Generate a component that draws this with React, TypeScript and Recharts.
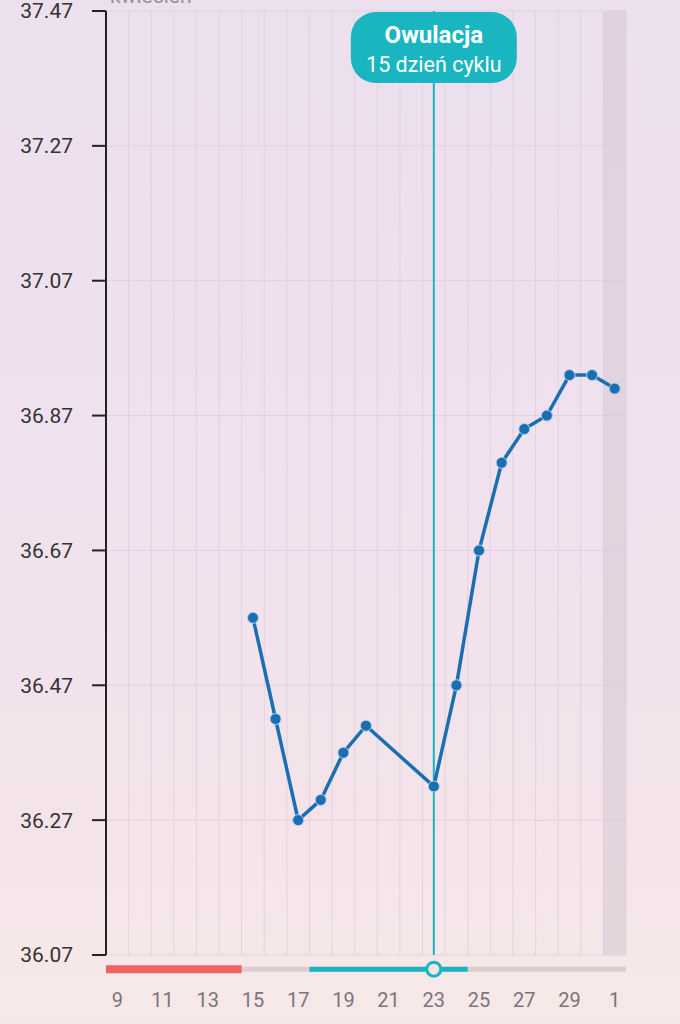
import React from 'react';
import {
  LineChart,
  Line,
  XAxis,
  YAxis,
  CartesianGrid,
  ReferenceLine,
  ReferenceArea,
  ReferenceDot,
} from 'recharts';

const days = ['9', '10', '11', '12', '13', '14', '15', '16', '17', '18', '19', '20', '21', '22', '23', '24', '25', '26', '27', '28', '29', '30', '1'];
const temps: (number | null)[] = [null, null, null, null, null, null, 36.57, 36.42, 36.27, 36.3, 36.37, 36.41, null, null, 36.32, 36.47, 36.67, 36.8, 36.85, 36.87, 36.93, 36.93, 36.91];
const yTicks = [36.07, 36.27, 36.47, 36.67, 36.87, 37.07, 37.27, 37.47];
const xTickDays = ['9', '11', '13', '15', '17', '19', '21', '23', '25', '27', '29', '1'];
const periodRange = ['9', '14'];
const fertileRange = ['18', '24'];
const ovulationDay = '23';
const todayDay = '1';
const ovulationTitle = 'Owulacja';
const ovulationSub = '15 dzień cyklu';
const monthLabel = 'kwiecień';
const TRACK_Y = 36.049;

const data = days.map((d, i) => ({ idx: i, day: d, temp: temps[i] }));
const idxOf = (d: string) => days.lastIndexOf(d);
const xTicks = xTickDays.map((d) => (d === '1' ? days.length - 1 : days.indexOf(d)));

const TEAL = '#19b6c2';
const BLUE = '#1a6fb3';
const BG_BOTTOM = '#f6e6e8';

const OvLabel = (props: any) => {
  const vb = props.viewBox || {};
  const cx = vb.x;
  const top = vb.y + 1;
  return (
    <g>
      <rect x={cx - 83} y={top} width={166} height={71} rx={25} ry={25} fill={TEAL} />
      <text x={cx} y={top + 31} textAnchor="middle" fill="#ffffff" fontSize={24} fontWeight={700} fontFamily="Roboto">
        {ovulationTitle}
      </text>
      <text x={cx} y={top + 60} textAnchor="middle" fill="#ffffff" fontSize={21.5} fontFamily="Roboto">
        {ovulationSub}
      </text>
    </g>
  );
};

export default function App() {
  const n = days.length;
  return (
    <div
      style={{
        position: 'absolute',
        top: 0,
        left: 0,
        width: 680,
        height: 1024,
        overflow: 'hidden',
        background: 'linear-gradient(180deg, #ecdfee 0%, #f0e1ef 40%, #f3e3ea 75%, #f7e8e8 100%)',
        fontFamily: 'Roboto',
      }}
    >
      <svg width={680} height={20} style={{ position: 'absolute', top: 0, left: 0 }}>
        <text x={110} y={3} fontSize={21} fill="#9a9098" fontFamily="Roboto">
          {monthLabel}
        </text>
      </svg>
      <LineChart
        width={680}
        height={1024}
        data={data}
        margin={{ top: 11, right: 54, bottom: 9, left: 0 }}
        style={{ fontFamily: 'Roboto' }}
      >
        <ReferenceArea
          x1={idxOf(todayDay) - 0.5}
          x2={idxOf(todayDay) + 0.5}
          y1={36.07}
          y2={37.47}
          fill="#d9c9d6"
          fillOpacity={0.6}
          stroke="none"
        />
        <CartesianGrid
          stroke="#e2d2df"
          strokeWidth={1}
          verticalCoordinatesGenerator={({ offset }: any) =>
            Array.from({ length: n + 1 }, (_, i) => offset.left + (i * offset.width) / n)
          }
        />
        <XAxis
          dataKey="idx"
          type="number"
          domain={[-0.5, n - 0.5]}
          ticks={xTicks}
          tickFormatter={(v: number) => days[v]}
          axisLine={false}
          tickLine={false}
          tickSize={0}
          tickMargin={38}
          height={60}
          interval={0}
          tick={{ fill: '#7d7479', fontSize: 20 }}
        />
        <YAxis
          type="number"
          domain={[36.07, 37.47]}
          ticks={yTicks}
          tickFormatter={(v: number) => v.toFixed(2)}
          width={106}
          axisLine={{ stroke: '#222222', strokeWidth: 2 }}
          tickLine={{ stroke: '#222222', strokeWidth: 2 }}
          tickSize={14}
          tickMargin={19}
          interval={0}
          tick={{ fill: '#333333', fontSize: 21 }}
          allowDataOverflow
        />
        <ReferenceLine
          x={idxOf(ovulationDay)}
          stroke={TEAL}
          strokeWidth={2}
          label={<OvLabel />}
        />
        <ReferenceLine
          segment={[{ x: -0.5, y: TRACK_Y }, { x: n - 0.5, y: TRACK_Y }]}
          stroke="#dccdd0"
          strokeWidth={5}
          ifOverflow="visible"
        />
        <ReferenceLine
          segment={[{ x: idxOf(periodRange[0]) - 0.5, y: TRACK_Y }, { x: idxOf(periodRange[1]) + 0.5, y: TRACK_Y }]}
          stroke="#f26262"
          strokeWidth={8}
          ifOverflow="visible"
        />
        <ReferenceLine
          segment={[{ x: idxOf(fertileRange[0]) - 0.5, y: TRACK_Y }, { x: idxOf(fertileRange[1]) + 0.5, y: TRACK_Y }]}
          stroke={TEAL}
          strokeWidth={5}
          ifOverflow="visible"
        />
        <ReferenceDot
          x={idxOf(ovulationDay)}
          y={TRACK_Y}
          r={7}
          fill={BG_BOTTOM}
          stroke={TEAL}
          strokeWidth={3}
          ifOverflow="visible"
        />
        <Line
          type="linear"
          dataKey="temp"
          stroke={BLUE}
          strokeWidth={3.5}
          connectNulls
          isAnimationActive={false}
          dot={{ r: 5.5, fill: BLUE, stroke: '#b4cfe8', strokeWidth: 1 }}
          activeDot={false}
        />
      </LineChart>
    </div>
  );
}
